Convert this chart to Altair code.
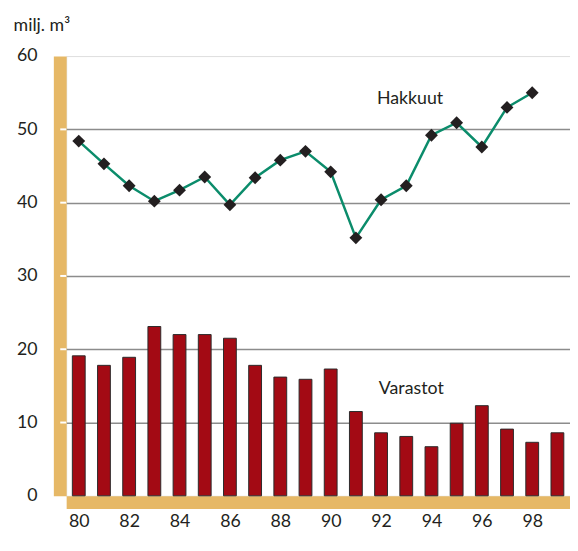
import altair as alt
import pandas as pd

years = list(range(1980, 2000))
hakkuut = [48.4, 45.3, 42.3, 40.2, 41.7, 43.5, 39.7, 43.4, 45.8, 47.0,
           44.2, 35.2, 40.4, 42.3, 49.2, 50.9, 47.6, 53.0, 55.0, None]
varastot = [19.1, 17.8, 18.9, 23.1, 22.0, 22.0, 21.5, 17.8, 16.2, 15.9,
            17.3, 11.5, 8.6, 8.1, 6.7, 9.9, 12.3, 9.1, 7.3, 8.6]
x_ticks = [1980, 1982, 1984, 1986, 1988, 1990, 1992, 1994, 1996, 1998]
y_ticks = [0, 10, 20, 30, 40, 50, 60]
labels = ["Hakkuut", "Varastot"]
label_x = [1993.15, 1993.2]
label_y = [54.2, 14.6]

df = pd.DataFrame({"year": years, "hakkuut": hakkuut, "varastot": varastot})
lab = pd.DataFrame({"text": labels, "x": label_x, "y": label_y})
tk = pd.DataFrame({"v": [v for v in y_ticks if 0 < v < 60]})

FONT = "Lato"
GOLD = "#E6B866"

xscale = alt.Scale(domain=[1979.5, 1999.5], nice=False, zero=False, padding=0)
yscale = alt.Scale(domain=[0, 60], nice=False, padding=0)

xaxis = alt.Axis(values=x_ticks, labelExpr="substring(toString(datum.value), 2)",
                 grid=False, ticks=False, domainColor=GOLD, domainWidth=13,
                 domainCap="butt", offset=6.5, labelPadding=11, labelFontSize=18,
                 labelFont=FONT, labelColor="#231F20", title=None, zindex=0)
yaxis = alt.Axis(values=y_ticks, grid=True, gridColor="#8C8C8C", gridWidth=1.5,
                 gridOpacity=alt.condition("datum.value == 0 || datum.value == 60", alt.value(0), alt.value(1)),
                 tickColor=GOLD, tickSize=6, tickWidth=2, tickOpacity=0,
                 domainColor=GOLD, domainWidth=13, domainCap="butt", offset=6.5,
                 labelPadding=17, labelFontSize=18, labelFont=FONT,
                 labelColor="#231F20", title=None, zindex=0)

base = alt.Chart(df)

bars = base.mark_bar(size=13, color="#A30A14", stroke="#2B2B2B", strokeWidth=1).encode(
    x=alt.X("year:Q", scale=xscale, axis=xaxis),
    y=alt.Y("varastot:Q", scale=yscale, axis=yaxis),
)

ticks = alt.Chart(tk).mark_tick(color="white", size=6, thickness=2, orient="horizontal",
                                opacity=1, clip=False).encode(
    y=alt.Y("v:Q", scale=yscale),
    x=alt.value(-3),
)

line = base.transform_filter("isValid(datum.hakkuut)").mark_line(color="#0B8C6B", strokeWidth=2.5).encode(
    x=alt.X("year:Q", scale=xscale),
    y=alt.Y("hakkuut:Q", scale=yscale),
)

points = base.transform_filter("isValid(datum.hakkuut)").mark_point(
    shape="diamond", size=170, filled=True, color="#231F20", opacity=1).encode(
    x=alt.X("year:Q", scale=xscale),
    y=alt.Y("hakkuut:Q", scale=yscale),
)

texts = alt.Chart(lab).mark_text(font=FONT, fontSize=18, color="#231F20").encode(
    x=alt.X("x:Q", scale=xscale),
    y=alt.Y("y:Q", scale=yscale),
    text="text:N",
)

chart = alt.layer(bars, line, points, texts, ticks).properties(
    width=511, height=446,
    title=alt.TitleParams("milj. m³", anchor="start", frame="bounds", font=FONT,
                          fontSize=18, fontWeight="normal", color="#231F20", offset=12, dx=-3),
    autosize=alt.AutoSizeParams(type="none"),
    padding={"left": 59, "top": 45, "right": 0, "bottom": 37},
).configure_view(fill="#FDF8F0", stroke=None).configure(background="white")

chart.save("out.html", embed_options={"renderer": "svg", "actions": False})
